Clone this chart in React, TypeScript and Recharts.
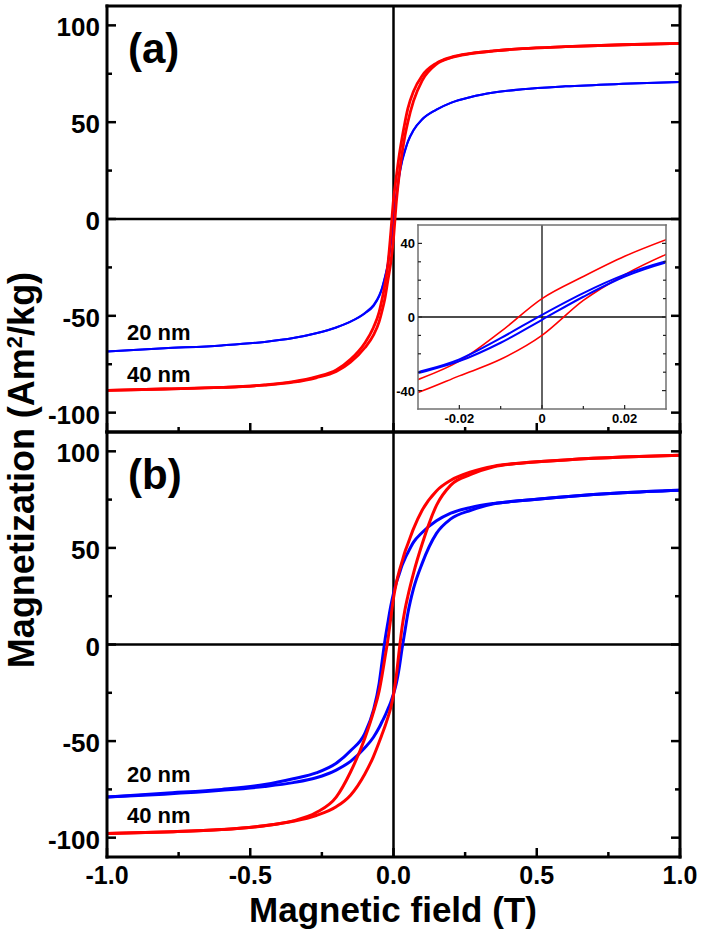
import React from 'react';
import { LineChart, Line, XAxis, YAxis, ReferenceLine } from 'recharts';

const FONT = '"Liberation Sans", Arial, Helvetica, sans-serif';
const RED = '#ff0000';
const BLUE = '#0000ff';

// applied field (T), shared by every branch
const field = [-1, -0.8, -0.6, -0.45, -0.35, -0.27, -0.2, -0.15, -0.1, -0.07, -0.05, -0.04, -0.03, -0.02, -0.01, 0,
  0.01, 0.02, 0.03, 0.04, 0.05, 0.07, 0.1, 0.15, 0.2, 0.27, 0.35, 0.45, 0.6, 0.8, 1];

// panel (a): magnetization (Am2/kg), descending / ascending branches
const a40Down = [-88.5, -87.8, -87, -85.7, -84, -81.5, -78, -72.5, -64, -56, -48, -41.5, -34, -24, -8, 10,
  22, 33, 42, 50, 57, 66, 74, 80.5, 83.5, 85.5, 86.8, 88, 89, 90, 90.7];
const a40Up = [-88.5, -87.8, -87, -85.8, -84.3, -82, -78.8, -74, -66.5, -60, -53, -47.5, -41, -32, -23, -10,
  9, 23, 34, 43, 50, 61, 71.5, 80, 83.3, 85.4, 86.8, 88, 89, 90, 90.7];
const a20Down = [-68.4, -66.8, -65.3, -63.5, -61.5, -59, -56, -53, -48.5, -44.5, -39.5, -35.5, -30, -23, -11.5, 1.2,
  13, 23, 30.3, 35.5, 40, 46, 51.5, 56.5, 60, 63, 65.3, 67, 68.5, 69.8, 70.8];
const a20Up = [-68.4, -66.8, -65.3, -63.5, -61.5, -59, -56, -53, -48.8, -45, -40, -36, -30.5, -24, -14, -1.5,
  11, 22, 29.7, 35, 39.7, 45.8, 51.4, 56.5, 60, 63, 65.3, 67, 68.5, 69.8, 70.8];

// panel (b)
const b40Down = [-97.8, -97, -95.8, -93.8, -91.3, -87, -79, -66, -48.5, -35, -24, -16, -7, 2, 13, 24,
  32, 38, 43, 48, 52, 60, 69.5, 79.5, 85, 89.3, 92.3, 94, 95.5, 97, 98];
const b40Up = [-97.8, -97, -95.8, -93.8, -91.5, -88.5, -84, -78, -67, -58, -50.5, -46.5, -42.5, -38, -33, -26,
  -16, -3, 9, 18, 25, 37, 52, 72, 82.5, 88, 92, 94, 95.5, 97, 98];
const b20Down = [-79, -77, -75, -72.5, -69.5, -66.5, -61.5, -55, -46, -34, -20, -9, 2, 11, 19.5, 26.5,
  32, 36.5, 41, 44.5, 47.5, 53, 58, 64, 68, 71, 73, 74.5, 76.5, 78.5, 79.8];
const b20Up = [-79, -77.5, -75.5, -73.5, -71.5, -69, -65, -60.5, -53.5, -48, -43, -40, -37, -33.5, -30, -25.5,
  -20, -12, -2, 7, 16, 29, 42, 57.5, 65, 69.5, 72.8, 74.5, 76.5, 78.5, 79.8];

// ticks
const xMajor = [-1, -0.5, 0, 0.5, 1];
const xMinor = [-0.75, -0.25, 0.25, 0.75];
const yMajor = [-100, -50, 0, 50, 100];
const yMinor = [-75, -25, 25, 75];
const insetXMajor = [-0.02, 0, 0.02];
const insetXMinor = [-0.01, 0.01];
const insetYMajor = [-40, 0, 40];
const insetYMinor = [-30, -20, -10, 10, 20, 30];

const toPoints = (ys: number[]) => field.map((x, i) => ({ x, y: ys[i] }));
const merge = (a: number[], b: number[]) => [...a, ...b].sort((p, q) => p - q);

type Side = 'left' | 'right' | 'top' | 'bottom';
type TickCfg = {
  side: Side;
  major: number[];
  long: number;
  short: number;
  sw: number;
  stroke: string;
  fmt?: (v: number) => string;
  fontSize?: number;
  gap?: number;
  dy?: number;
};

// draws an inward tick and, for labelled values, the text
const makeTick = (c: TickCfg) => (props: any) => {
  const x = Number(props.x);
  const y = Number(props.y);
  const v = Number(props.payload?.value);
  const isMajor = c.major.some((m) => Math.abs(m - v) < 1e-9);
  const len = isMajor ? c.long : c.short;
  const dx = c.side === 'left' ? len : c.side === 'right' ? -len : 0;
  const dyl = c.side === 'top' ? len : c.side === 'bottom' ? -len : 0;
  let label = null;
  if (c.fmt && isMajor) {
    const common = { fontFamily: FONT, fontWeight: 'bold' as const, fontSize: c.fontSize, fill: '#000' };
    if (c.side === 'left') {
      label = (
        <text x={x - (c.gap ?? 6)} y={y + (c.dy ?? 0)} textAnchor="end" {...common}>
          {c.fmt(v)}
        </text>
      );
    } else if (c.side === 'bottom') {
      label = (
        <text x={x} y={y + (c.gap ?? 20)} textAnchor="middle" {...common}>
          {c.fmt(v)}
        </text>
      );
    }
  }
  return (
    <g>
      <line x1={x} y1={y} x2={x + dx} y2={y + dyl} stroke={c.stroke} strokeWidth={c.sw} />
      {label}
    </g>
  );
};

const frame = { stroke: '#000', strokeWidth: 3, strokeLinecap: 'square' as const };

type Series = { name: string; values: number[]; color: string; width: number };

interface PanelProps {
  top: number;
  height: number;
  margin: { top: number; right: number; bottom: number; left: number };
  bottomAxisHeight: number;
  series: Series[];
  showXLabels: boolean;
}

const Panel: React.FC<PanelProps> = ({ top, height, margin, bottomAxisHeight, series, showXLabels }) => {
  const xTicks = merge(xMajor, xMinor);
  const yTicks = merge(yMajor, yMinor);
  const tickBase = { long: 9, short: 5, sw: 2.5, stroke: '#000' };
  return (
    <div style={{ position: 'absolute', left: 0, top }}>
      <LineChart width={702} height={height} margin={margin}>
        <XAxis
          xAxisId="b"
          dataKey="x"
          type="number"
          domain={[-1, 1]}
          ticks={xTicks}
          interval={0}
          height={bottomAxisHeight}
          tickSize={0}
          tickMargin={0}
          tickLine={false}
          axisLine={frame}
          allowDataOverflow
          tick={makeTick({
            side: 'bottom',
            major: xMajor,
            ...tickBase,
            fmt: showXLabels ? (v) => v.toFixed(1) : undefined,
            fontSize: 25,
            gap: 27,
          })}
        />
        <XAxis
          xAxisId="t"
          orientation="top"
          type="number"
          domain={[-1, 1]}
          ticks={xTicks}
          interval={0}
          height={1}
          tickSize={0}
          tickMargin={0}
          tickLine={false}
          axisLine={frame}
          allowDataOverflow
          tick={makeTick({ side: 'top', major: xMajor, ...tickBase })}
        />
        <YAxis
          yAxisId="l"
          type="number"
          domain={[-110, 110]}
          ticks={yTicks}
          interval={0}
          width={107}
          tickSize={0}
          tickMargin={0}
          tickLine={false}
          axisLine={frame}
          allowDataOverflow
          tick={makeTick({
            side: 'left',
            major: yMajor,
            ...tickBase,
            fmt: (v) => String(v),
            fontSize: 26,
            gap: 7,
            dy: 11,
          })}
        />
        <YAxis
          yAxisId="r"
          orientation="right"
          type="number"
          domain={[-110, 110]}
          ticks={yTicks}
          interval={0}
          width={1}
          tickSize={0}
          tickMargin={0}
          tickLine={false}
          axisLine={frame}
          allowDataOverflow
          tick={makeTick({ side: 'right', major: yMajor, ...tickBase })}
        />
        <ReferenceLine xAxisId="b" yAxisId="l" y={0} stroke="#000" strokeWidth={2.5} />
        <ReferenceLine xAxisId="b" yAxisId="l" x={0} stroke="#000" strokeWidth={2.5} />
        {series.map((s) => (
          <Line
            key={s.name}
            xAxisId="b"
            yAxisId="l"
            data={toPoints(s.values)}
            dataKey="y"
            type="monotone"
            stroke={s.color}
            strokeWidth={s.width}
            dot={false}
            isAnimationActive={false}
          />
        ))}
      </LineChart>
    </div>
  );
};

const Inset: React.FC = () => {
  const xTicks = merge(insetXMajor, insetXMinor);
  const yTicks = merge(insetYMajor, insetYMinor);
  const box = { stroke: '#707070', strokeWidth: 1.5, strokeLinecap: 'square' as const };
  const tb = { long: 4, short: 3, sw: 1.2, stroke: '#222' };
  const series: Series[] = [
    { name: 'a40Down', values: a40Down, color: RED, width: 1.6 },
    { name: 'a40Up', values: a40Up, color: RED, width: 1.6 },
    { name: 'a20Down', values: a20Down, color: BLUE, width: 2 },
    { name: 'a20Up', values: a20Up, color: BLUE, width: 2 },
  ];
  return (
    <div style={{ position: 'absolute', left: 378, top: 220 }}>
      <LineChart width={300} height={210} margin={{ top: 4, right: 11, bottom: 0, left: 0 }}>
        <XAxis
          xAxisId="b"
          dataKey="x"
          type="number"
          domain={[-0.03, 0.03]}
          ticks={xTicks}
          interval={0}
          height={21}
          tickSize={0}
          tickMargin={0}
          tickLine={false}
          axisLine={box}
          allowDataOverflow
          tick={makeTick({
            side: 'bottom',
            major: insetXMajor,
            ...tb,
            fmt: (v) => (v === 0 ? '0' : v.toFixed(2)),
            fontSize: 13,
            gap: 14,
          })}
        />
        <XAxis
          xAxisId="t"
          orientation="top"
          type="number"
          domain={[-0.03, 0.03]}
          ticks={xTicks}
          interval={0}
          height={1}
          tickSize={0}
          tickMargin={0}
          tickLine={false}
          axisLine={box}
          allowDataOverflow
          tick={makeTick({ side: 'top', major: insetXMajor, ...tb })}
        />
        <YAxis
          yAxisId="l"
          type="number"
          domain={[-50, 50]}
          ticks={yTicks}
          interval={0}
          width={40}
          tickSize={0}
          tickMargin={0}
          tickLine={false}
          axisLine={box}
          allowDataOverflow
          tick={makeTick({
            side: 'left',
            major: insetYMajor,
            ...tb,
            fmt: (v) => String(v),
            fontSize: 13,
            gap: 3,
            dy: 5,
          })}
        />
        <YAxis
          yAxisId="r"
          orientation="right"
          type="number"
          domain={[-50, 50]}
          ticks={yTicks}
          interval={0}
          width={1}
          tickSize={0}
          tickMargin={0}
          tickLine={false}
          axisLine={box}
          allowDataOverflow
          tick={makeTick({ side: 'right', major: insetYMajor, ...tb })}
        />
        <ReferenceLine xAxisId="b" yAxisId="l" y={0} stroke="#111" strokeWidth={1.3} />
        <ReferenceLine xAxisId="b" yAxisId="l" x={0} stroke="#111" strokeWidth={1.3} />
        {series.map((s) => (
          <Line
            key={s.name}
            xAxisId="b"
            yAxisId="l"
            data={toPoints(s.values)}
            dataKey="y"
            type="monotone"
            stroke={s.color}
            strokeWidth={s.width}
            dot={false}
            isAnimationActive={false}
          />
        ))}
      </LineChart>
    </div>
  );
};

const App: React.FC = () => {
  const seriesA: Series[] = [
    { name: 'a20Down', values: a20Down, color: BLUE, width: 2 },
    { name: 'a20Up', values: a20Up, color: BLUE, width: 2 },
    { name: 'a40Down', values: a40Down, color: RED, width: 2.8 },
    { name: 'a40Up', values: a40Up, color: RED, width: 2.8 },
  ];
  const seriesB: Series[] = [
    { name: 'b20Down', values: b20Down, color: BLUE, width: 3 },
    { name: 'b20Up', values: b20Up, color: BLUE, width: 3 },
    { name: 'b40Down', values: b40Down, color: RED, width: 3 },
    { name: 'b40Up', values: b40Up, color: RED, width: 3 },
  ];
  const txt = { fontFamily: FONT, fontWeight: 'bold' as const, fill: '#000' };
  return (
    <div style={{ position: 'absolute', left: 0, top: 0, width: 702, height: 942, background: '#fff' }}>
      <Panel
        top={0}
        height={440}
        margin={{ top: 5, right: 21, bottom: 7, left: 0 }}
        bottomAxisHeight={1}
        series={seriesA}
        showXLabels={false}
      />
      <Panel
        top={424}
        height={518}
        margin={{ top: 7, right: 21, bottom: 45, left: 0 }}
        bottomAxisHeight={40}
        series={seriesB}
        showXLabels
      />
      <Inset />
      <svg
        width={702}
        height={942}
        style={{ position: 'absolute', left: 0, top: 0, pointerEvents: 'none' }}
      >
        <text x={128} y={63} fontSize={42} {...txt}>(a)</text>
        <text x={128} y={489} fontSize={42} {...txt}>(b)</text>
        <text x={127} y={340} fontSize={22} {...txt}>20 nm</text>
        <text x={127} y={382} fontSize={22} {...txt}>40 nm</text>
        <text x={127} y={782} fontSize={22} {...txt}>20 nm</text>
        <text x={127} y={823} fontSize={22} {...txt}>40 nm</text>
        <text x={393} y={922} fontSize={35} textAnchor="middle" {...txt}>Magnetic field (T)</text>
        <text transform="translate(34,470) rotate(-90)" fontSize={36} textAnchor="middle" {...txt}>
          Magnetization (Am<tspan dy={-12} fontSize={22}>2</tspan>
          <tspan dy={12}>/kg)</tspan>
        </text>
      </svg>
    </div>
  );
};

export default App;
